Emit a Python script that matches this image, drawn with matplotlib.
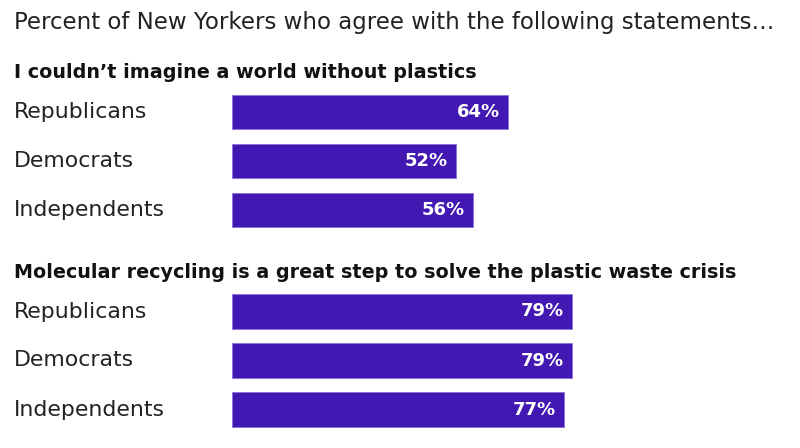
import numpy as np
import matplotlib.pyplot as plt
from matplotlib.transforms import blended_transform_factory

title = "Percent of New Yorkers who agree with the following statements\u2026"
statements = ["I couldn\u2019t imagine a world without plastics",
              "Molecular recycling is a great step to solve the plastic waste crisis"]
groups = ["Republicans", "Democrats", "Independents"]
values_plastics = [64, 52, 56]
values_recycling = [79, 79, 77]

bar_color = "#4318B2"
W, H = 800, 448

fig = plt.figure(figsize=(8, 4.48), dpi=100)
fig.patch.set_facecolor("white")

def fx(px):
    return px / W

def fy(py):
    return 1 - py / H

# title
fig.text(fx(14), fy(22), title, fontsize=16.5, family="DejaVu Sans", color="#222222",
         va="center", ha="left")

# layout for each section (pixels)
left_px = 232
px_per_pct = 4.31
row_px = 49
sections = [(statements[0], values_plastics, 72, 87.5),
            (statements[1], values_recycling, 272, 287)]

for header, vals, header_y, top_px in sections:
    fig.text(fx(14), fy(header_y), header, fontsize=13.8, family="DejaVu Sans",
             weight="bold", color="#111111", va="center", ha="left")
    h_px = row_px * len(vals)
    ax = fig.add_axes([fx(left_px), fy(top_px + h_px), fx(100 * px_per_pct), h_px / H])
    y = np.arange(len(vals))
    ax.barh(y, vals, height=0.7, color=bar_color, edgecolor="#8a70d8", linewidth=0.6)
    ax.set_xlim(0, 100)
    ax.set_ylim(len(vals) - 0.5, -0.5)
    ax.axis("off")
    trans = blended_transform_factory(fig.transFigure, ax.transData)
    for yi, (g, v) in enumerate(zip(groups, vals)):
        ax.text(fx(14), yi, g, transform=trans, fontsize=15.8, family="DejaVu Sans",
                color="#222222", va="center", ha="left")
        ax.text(v - 1.9, yi, f"{v}%", fontsize=13, family="DejaVu Sans", weight="bold",
                color="white", va="center", ha="right")

fig.savefig("out.png", dpi=100)
